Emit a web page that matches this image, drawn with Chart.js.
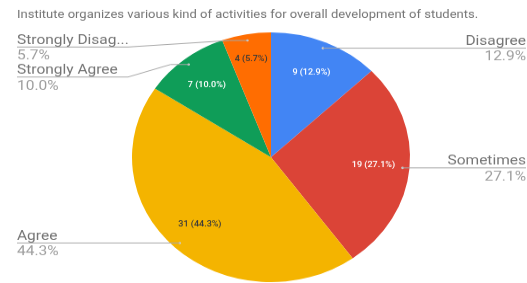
<!DOCTYPE html>
<html>
<head>
<meta charset="utf-8">
<script src="https://cdn.jsdelivr.net/npm/chart.js@4/dist/chart.umd.min.js"></script>
<style>
  html, body { margin: 0; padding: 0; background: #fff; overflow: hidden; }
  /* the reference is squashed vertically, so draw tall and shrink */
  #wrap { width: 527px; height: 283px; overflow: hidden; }
  #pie { transform: scaleY(0.8984); transform-origin: 0 0; }
</style>
</head>
<body>
<div id="wrap"><canvas id="pie" width="527" height="315"></canvas></div>
<script>
// pie data, clockwise from 12 o'clock
const categories = ['Disagree', 'Sometimes', 'Agree', 'Strongly Agree', 'Strongly Disagree'];
const shownNames = ['Disagree', 'Sometimes', 'Agree', 'Strongly Agree', 'Strongly Disag...'];
const responses = [9, 19, 31, 7, 4];
const chartTitle = 'Institute organizes various kind of activities for overall development of students.';

const total = responses.reduce((a, b) => a + b, 0);
const pct = v => (v / total * 100).toFixed(1) + '%';

const SY = 315 / 283;          // vertical stretch of the canvas
const FONT = 'Roboto, "Noto Sans", sans-serif';

// elbows for the crowded labels on the upper left
const leftLineY = { 3: 77 * SY, 4: 47 * SY };

const labelPlugin = {
  id: 'sheetLabels',
  afterDatasetsDraw(chart) {
    const ctx = chart.ctx;
    const meta = chart.getDatasetMeta(0);
    ctx.save();

    // title
    ctx.font = '13px ' + FONT;
    ctx.fillStyle = '#757575';
    ctx.textAlign = 'left';
    ctx.textBaseline = 'middle';
    ctx.fillText(chartTitle, 17, 15 * SY);

    meta.data.forEach((arc, i) => {
      const p = arc.getProps(['x', 'y', 'startAngle', 'endAngle', 'outerRadius'], true);
      const mid = (p.startAngle + p.endAngle) / 2;
      const cos = Math.cos(mid), sin = Math.sin(mid);

      // value inside the slice
      const rIn = p.outerRadius * (i === 4 ? 0.8 : 0.74);
      ctx.font = '500 9px ' + FONT;
      ctx.textAlign = 'center';
      ctx.textBaseline = 'middle';
      ctx.fillStyle = (i === 2 || i === 4) ? '#3a3a3a' : '#ffffff';
      ctx.fillText(responses[i] + ' (' + pct(responses[i]) + ')', p.x + cos * rIn, p.y + sin * rIn);

      // leader dot
      const dx = p.x + cos * p.outerRadius * 0.95;
      const dy = p.y + sin * p.outerRadius * 0.95;
      ctx.fillStyle = '#cfcfcf';
      ctx.beginPath();
      ctx.arc(dx, dy, 1.3, 0, Math.PI * 2);
      ctx.fill();

      const right = cos > 0;
      const lineY = (!right && leftLineY[i] !== undefined) ? leftLineY[i] : dy;
      const endX = right ? 526 : 17;

      ctx.strokeStyle = '#a8a8a8';
      ctx.lineWidth = 1;
      ctx.beginPath();
      ctx.moveTo(dx, dy);
      if (lineY !== dy) {
        ctx.lineTo(dx - 18, dy);
        ctx.lineTo(128, lineY);
      }
      ctx.lineTo(endX, lineY);
      ctx.stroke();

      ctx.textAlign = right ? 'right' : 'left';
      ctx.font = '15.5px ' + FONT;
      ctx.fillStyle = '#757575';
      ctx.textBaseline = 'alphabetic';
      ctx.fillText(shownNames[i], endX, lineY - 3 * SY);
      ctx.fillStyle = '#9e9e9e';
      ctx.textBaseline = 'top';
      ctx.fillText(pct(responses[i]), endX, lineY + 2 * SY);
    });
    ctx.restore();
  }
};

new Chart(document.getElementById('pie').getContext('2d'), {
  type: 'pie',
  data: {
    labels: categories,
    datasets: [{
      data: responses,
      backgroundColor: ['#4285f4', '#db4437', '#f4b400', '#0f9d58', '#ff6d01'],
      borderWidth: 0
    }]
  },
  options: {
    responsive: false,
    animation: false,
    layout: { padding: { left: 132, right: 117, top: 36, bottom: 1 } },
    plugins: {
      legend: { display: false },
      tooltip: { enabled: false }
    }
  },
  plugins: [labelPlugin]
});
</script>
</body>
</html>
